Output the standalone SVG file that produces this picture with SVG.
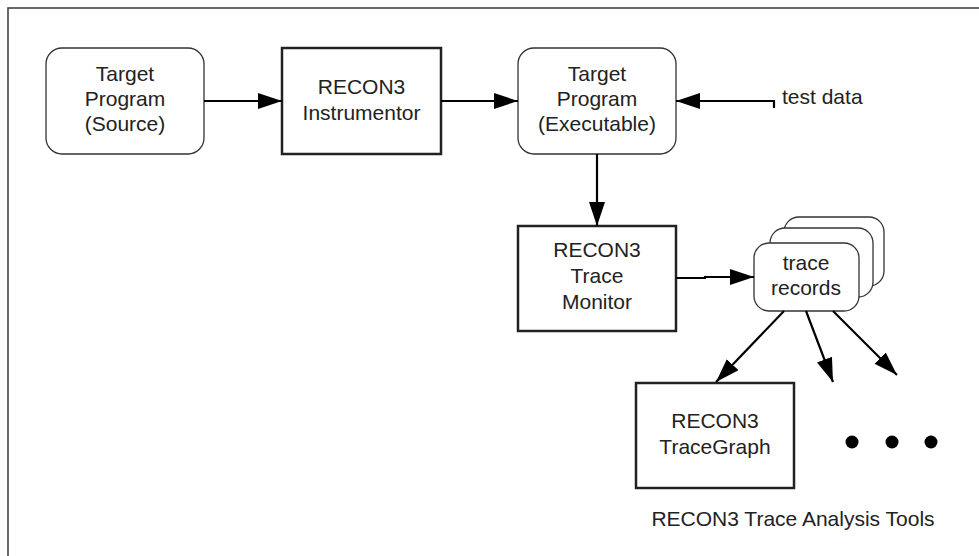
<svg xmlns="http://www.w3.org/2000/svg" width="979" height="556" viewBox="0 0 979 556">
<defs>
<marker id="ah" markerUnits="userSpaceOnUse" markerWidth="26" markerHeight="16" refX="24" refY="8" orient="auto">
<path d="M0,0 L24,8 L0,16 Z" fill="#000"/>
</marker>
<style>
.t{font-family:"Liberation Sans",Arial,sans-serif;font-size:21px;fill:#222;text-anchor:middle}
.rr{fill:#fff;stroke:#333;stroke-width:1.3}
.bx{fill:#fff;stroke:#222;stroke-width:2.5}
.c{fill:none;stroke:#000;stroke-width:2.2}
</style>
</defs>
<rect x="8" y="8" width="990" height="570" fill="#fff" stroke="#444" stroke-width="1.6"/>
<g id="src">
<rect class="rr" x="46" y="48" width="158" height="106" rx="16"/>
<text class="t" x="125" y="81">Target</text>
<text class="t" x="125" y="106">Program</text>
<text class="t" x="125" y="131">(Source)</text>
</g>
<g id="instr">
<rect class="bx" x="282" y="48" width="159" height="106"/>
<text class="t" x="361.5" y="94">RECON3</text>
<text class="t" x="361.5" y="120">Instrumentor</text>
</g>
<g id="exe">
<rect class="rr" x="518" y="48" width="158" height="106" rx="16"/>
<text class="t" x="597" y="81">Target</text>
<text class="t" x="597" y="106">Program</text>
<text class="t" x="597" y="131">(Executable)</text>
</g>
<g id="testdata">
<text class="t" x="782" y="104" style="text-anchor:start">test data</text>
</g>
<g id="monitor">
<rect class="bx" x="518" y="226" width="158" height="105"/>
<text class="t" x="597" y="257">RECON3</text>
<text class="t" x="597" y="283">Trace</text>
<text class="t" x="597" y="309">Monitor</text>
</g>
<g id="records">
<rect class="rr" x="784" y="217" width="100" height="69" rx="15"/>
<rect class="rr" x="770" y="228" width="103" height="69" rx="15"/>
<rect class="rr" x="754" y="243" width="105" height="68" rx="15"/>
<text class="t" x="806" y="270">trace</text>
<text class="t" x="806" y="295">records</text>
</g>
<g id="tracegraph">
<rect class="bx" x="636" y="383" width="158" height="105"/>
<text class="t" x="715" y="428">RECON3</text>
<text class="t" x="715" y="454">TraceGraph</text>
</g>
<g id="dots">
<circle cx="852" cy="442" r="6.5" fill="#000"/>
<circle cx="892" cy="442" r="6.5" fill="#000"/>
<circle cx="931" cy="442" r="6.5" fill="#000"/>
</g>
<g id="caption">
<text class="t" x="793" y="526">RECON3 Trace Analysis Tools</text>
</g>
<g id="connectors">
<line class="c" x1="204" y1="101" x2="282" y2="101" marker-end="url(#ah)"/>
<line class="c" x1="441" y1="101" x2="518" y2="101" marker-end="url(#ah)"/>
<path class="c" d="M774,108 L774,101 L676,101" marker-end="url(#ah)"/>
<line class="c" x1="597" y1="154" x2="597" y2="226" marker-end="url(#ah)"/>
<path class="c" d="M676,278 L705,278 L705,277 L754,277" marker-end="url(#ah)"/>
<line class="c" x1="784" y1="311" x2="716" y2="382" marker-end="url(#ah)"/>
<line class="c" x1="806" y1="311" x2="833" y2="382" marker-end="url(#ah)"/>
<line class="c" x1="833" y1="311" x2="897" y2="375" marker-end="url(#ah)"/>
</g>
</svg>
